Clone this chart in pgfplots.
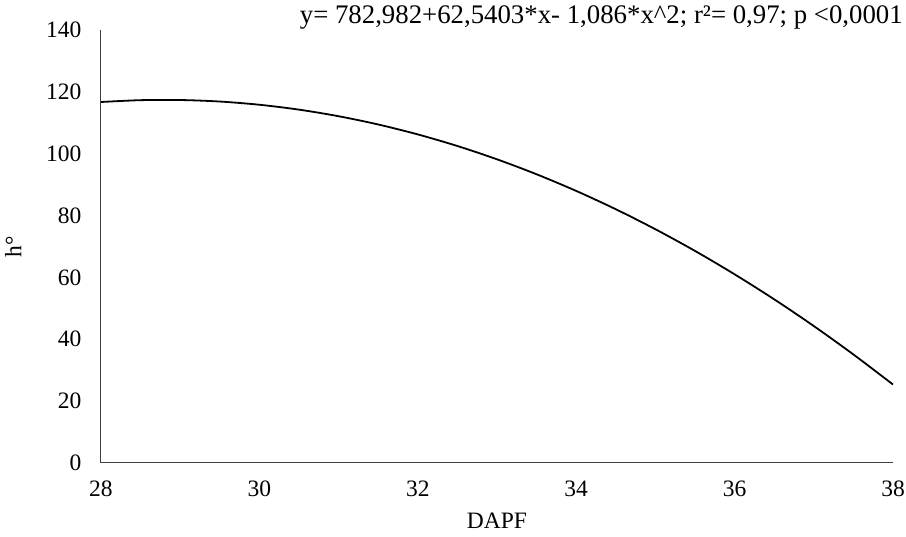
\documentclass[border=0pt]{standalone}
\usepackage{pgfplots}
\pgfplotsset{compat=1.18}
\usepackage{fontspec}
\setmainfont{Liberation Serif}
\begin{document}
\begin{tikzpicture}
\begin{axis}[
  name=ax,
  at={(0pt,0pt)}, anchor=south west,
  scale only axis,
  width=792pt, height=433pt,
  xmin=28, xmax=38, ymin=0, ymax=140,
  xtick={28,30,...,38}, ytick={0,20,...,140},
  axis x line*=bottom, axis y line*=left,
  axis line style={draw=black!75, line width=1pt},
  major tick length=0pt,
  tick style={draw=none},
  ticklabel style={font=\fontsize{23.5}{28}\selectfont},
  /pgf/number format/assume math mode=true,
  xticklabel style={yshift=-14pt},
  yticklabel style={xshift=-16pt},
  xlabel={DAPF}, ylabel={h°},
  label style={font=\fontsize{23.5}{28}\selectfont},
  xlabel style={yshift=-10pt},
  ylabel style={yshift=18pt},
  clip=false,
]
\addplot[black, line width=1.8pt, smooth] coordinates {
(28,116.72)(28.5,117.31)(29,117.36)(29.5,116.87)(30,115.83)(30.5,114.25)
(31,112.12)(31.5,109.45)(32,106.24)(32.5,102.49)(33,98.19)(33.5,93.35)
(34,87.97)(34.5,82.05)(35,75.58)(35.5,68.57)(36,61.01)(36.5,52.92)
(37,44.28)(37.5,35.09)(38,25.37)};
\end{axis}
\node[anchor=base east, font=\fontsize{26.8}{31}\selectfont, inner sep=0pt] at ([shift={(10pt,6pt)}]ax.north east) {y= 782,982+62,5403*x- 1,086*x\textasciicircum 2; r²= 0,97; p <0,0001};
\pgfresetboundingbox
\path ([shift={(-101pt,-74pt)}]ax.south west) rectangle ([shift={(13pt,30pt)}]ax.north east);
\end{tikzpicture}
\end{document}
